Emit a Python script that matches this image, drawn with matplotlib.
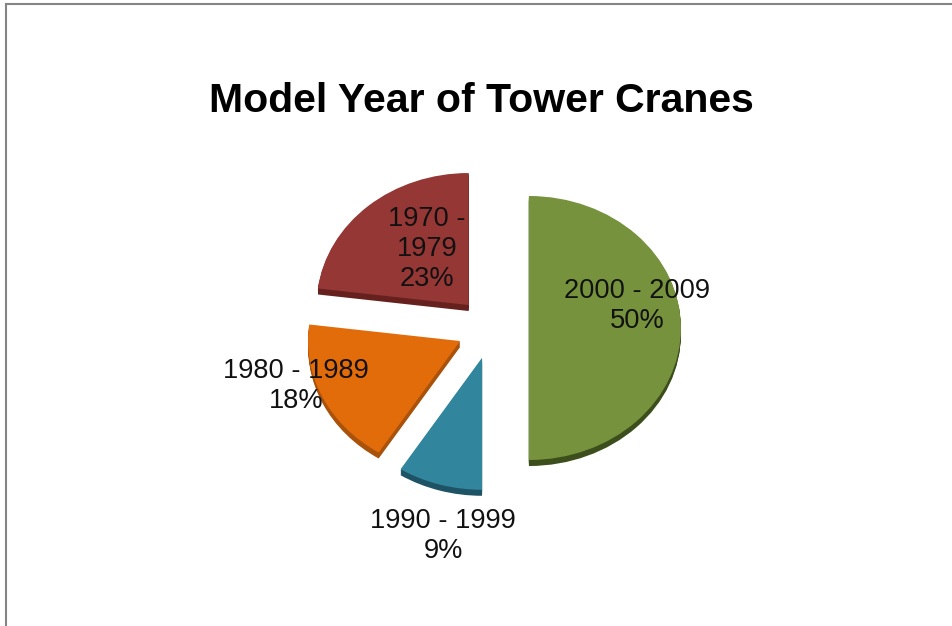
import matplotlib
matplotlib.use("Agg")
import matplotlib.pyplot as plt
from matplotlib.lines import Line2D

# Share of tower cranes per model-year band, clockwise from 12 o'clock
categories = ["2000 - 2009", "1990 - 1999", "1980 - 1989", "1970 -\n1979"]
shares = [50, 9, 18, 23]
title = "Model Year of Tower Cranes"

top_colors = ["#76923C", "#31859C", "#E36C0A", "#953735"]
side_colors = ["#3B4E1C", "#1D5364", "#A9520C", "#66211F"]
explode = [0.243, 0.235, 0.232, 0.232]
label_px = [(637, 306), (443, 536), (296, 386), (427, 249)]

W, H = 953, 626
CX, CY, RX, RY = 492, 328, 152, 132
DEPTH_PX = 6

plt.rcParams["font.family"] = ["Liberation Sans", "DejaVu Sans"]
fig = plt.figure(figsize=(W / 100, H / 100), dpi=100, facecolor="white")
ax = fig.add_axes([0, 0, 1, 1])

# Extruded rim: stacked darker pies stepping down towards the lower edge
for step in range(DEPTH_PX, 0, -1):
    ax.pie(shares, explode=explode, colors=side_colors, startangle=90,
           counterclock=False, radius=1, center=(0, -step / RY),
           wedgeprops={"linewidth": 0})

# Top surface of the pie
ax.pie(shares, explode=explode, colors=top_colors, startangle=90,
       counterclock=False, radius=1, center=(0, 0),
       wedgeprops={"linewidth": 0})

# One radius spans 152 px across and 132 px down, giving the tilted ellipse
ax.set_aspect("auto")
ax.set_xlim(-CX / RX, (W - CX) / RX)
ax.set_ylim((CY - H) / RY, CY / RY)
ax.axis("off")

for cat, share, (px, py) in zip(categories, shares, label_px):
    fig.text(px / W, 1 - py / H, f"{cat}\n{share}%", ha="center", va="center",
             fontsize=19.6, color="#111111", linespacing=1.18)

fig.text(481 / W, 1 - 101 / H, title, ha="center", va="center",
         fontsize=29.5, fontweight="bold", color="black")

# Thin grey frame along the top and left edges
frame = "#858585"
fig.add_artist(Line2D([6 / W, 6 / W], [0, 1 - 4 / H], color=frame, lw=1.5))
fig.add_artist(Line2D([6 / W, 1], [1 - 4 / H, 1 - 4 / H], color=frame, lw=1.5))

fig.savefig("out.png", dpi=100, facecolor="white")
